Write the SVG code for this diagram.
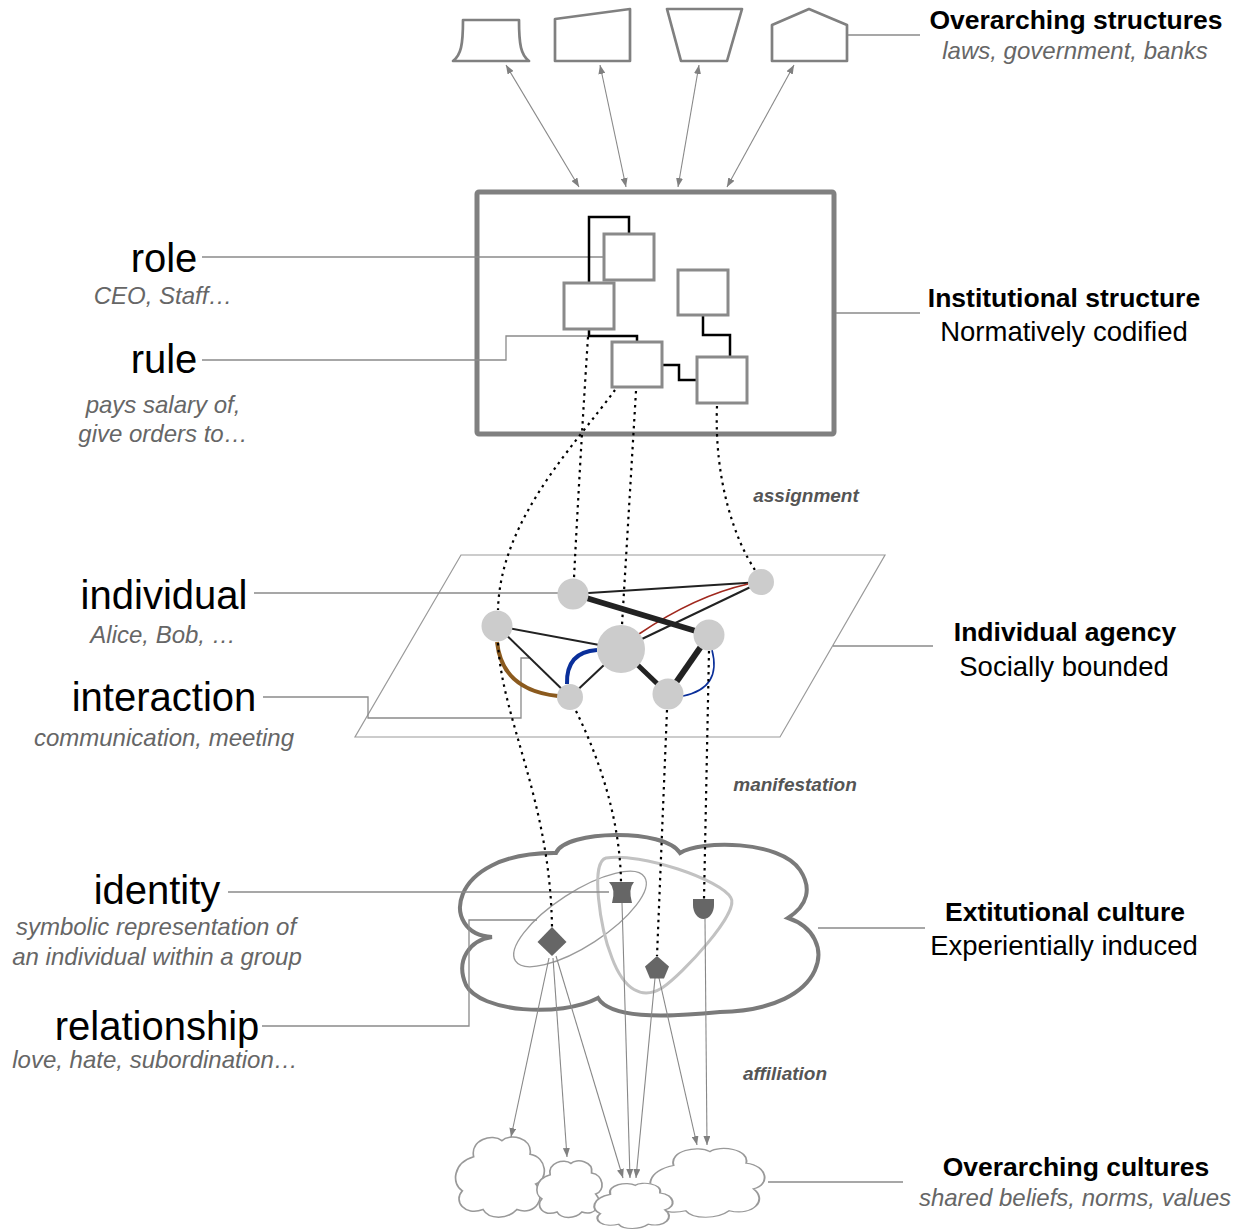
<svg xmlns="http://www.w3.org/2000/svg" width="1236" height="1230" viewBox="0 0 1236 1230">
<defs>
<marker id="ah" markerUnits="userSpaceOnUse" markerWidth="9" markerHeight="7" refX="9" refY="3.5" orient="auto-start-reverse"><path d="M0,0 L9,3.5 L0,7 Z" fill="#808080"/></marker>
<path id="cloudShape" d="M22,28 C18,8 42,0 52,9 C60,0 85,5 82,25 C100,28 102,55 88,60 C100,75 88,98 68,90 C58,102 38,102 32,90 C12,98 0,80 10,68 C-2,60 0,35 22,28 Z"/>
</defs>
<style>
text{font-family:"Liberation Sans",Arial,Helvetica,sans-serif}
.big{font-size:40px;fill:#000;text-anchor:middle}
.sub{font-size:24px;fill:#666;font-style:italic;text-anchor:middle}
.ttl{font-size:26.5px;font-weight:bold;fill:#000;text-anchor:middle}
.dsc{font-size:27.5px;fill:#000;text-anchor:middle}
.mid{font-size:19px;font-weight:bold;font-style:italic;fill:#555;text-anchor:middle}
.lab{fill:none;stroke:#8a8a8a;stroke-width:1.3}
.top{fill:#fff;stroke:#808080;stroke-width:2.7;stroke-linejoin:round}
.box{fill:#fff;stroke:#8a8a8a;stroke-width:3}
.org{fill:none;stroke:#000;stroke-width:2.5}
.dot{fill:none;stroke:#000;stroke-width:2.2;stroke-dasharray:2.5 4.5}
.arr{fill:none;stroke:#888;stroke-width:1.1}
.ind{fill:#cccccc}
.thin{stroke:#222;stroke-width:2;fill:none}
.thick{stroke:#222;fill:none}
.cult{fill:#666}
.sc{fill:#fff;stroke:#999}
</style>
<rect width="1236" height="1230" fill="#fff"/>

<!-- containers -->
<g id="institution-frame"><rect x="477" y="192" width="357" height="242" rx="2" fill="#fff" stroke="#808080" stroke-width="5"/></g>
<g id="agency-plane"><path d="M461,555 L885,555 L780,737 L355,737 Z" fill="#fff" stroke="#9a9a9a" stroke-width="1.2"/></g>
<g id="culture-cloud">
<path d="M492,937 C440,935 445,852 556,853 C565,830 665,828 680,853 C700,840 780,840 800,870 C812,888 808,905 788,918 C840,935 830,1010 720,1012 C660,1018 610,1018 598,998 C560,1018 480,1012 466,985 C455,960 470,940 492,937 Z" fill="#fff" stroke="#7a7a7a" stroke-width="4"/>
<ellipse cx="580" cy="919" rx="77" ry="27" transform="rotate(-33 580 919)" fill="none" stroke="#9a9a9a" stroke-width="1.3"/>
<path d="M606,858 C640,852 722,880 731,898 C740,912 682,975 662,988 C642,1000 624,990 612,958 C600,928 590,862 606,858 Z" fill="none" stroke="#c2c2c2" stroke-width="3"/>
</g>
<g id="overarching-cultures">
<use href="#cloudShape" class="sc" transform="translate(453,1133) scale(0.94,0.85)" style="stroke-width:1.8"/>
<use href="#cloudShape" class="sc" transform="translate(535,1158) scale(0.69,0.60)" style="stroke-width:2.5"/>
<use href="#cloudShape" class="sc" transform="translate(647,1145) scale(1.21,0.73)" style="stroke-width:1.6"/>
<use href="#cloudShape" class="sc" transform="translate(592,1181) scale(0.83,0.48)" style="stroke-width:2.5"/>
</g>
<g id="overarching-structures">
<path class="top" d="M463,20 H519 C519,45 521,55 529,61 H453 C461,55 463,45 463,20 Z"/>
<path class="top" d="M555,19 L630,9 V61 H555 Z"/>
<path class="top" d="M667,9 H742 L727,61 H681 Z"/>
<path class="top" d="M772,25 L809,9 L847,25 V61 H772 Z"/>
</g>

<!-- connectors -->
<g id="connectors">
<path class="lab" d="M848,35 H920"/>
<path class="lab" d="M836,313 H920"/>
<path class="lab" d="M833,646 H933"/>
<path class="lab" d="M818,928 H925"/>
<path class="lab" d="M768,1182 H903"/>
<path class="lab" d="M202,257 H604"/>
<path class="lab" d="M202,360 H506 V336 H589"/>
<path class="lab" d="M254,593 H558"/>
<path class="lab" d="M263,697 H368 V718 H521 V658 H529"/>
<path class="lab" d="M228,892 H609"/>
<path class="lab" d="M262,1026 H469 V920 H537"/>

<path class="arr" marker-start="url(#ah)" marker-end="url(#ah)" d="M506,65 L579,187"/>
<path class="arr" marker-start="url(#ah)" marker-end="url(#ah)" d="M600,65 L626,187"/>
<path class="arr" marker-start="url(#ah)" marker-end="url(#ah)" d="M699,65 L678,187"/>
<path class="arr" marker-start="url(#ah)" marker-end="url(#ah)" d="M794,65 L727,187"/>

<path class="org" d="M589,283 V217 H629 V234"/>
<path class="org" d="M589,329 V336 H637 V342"/>
<path class="org" d="M703,315 V335 H730 V357"/>
<path class="org" stroke-width="3.5" d="M662,365 H679 V380 H697"/>

<path class="dot" d="M588,337 Q580,460 574,578"/>
<path class="dot" d="M615,390 C575,445 500,520 498,610"/>
<path class="dot" d="M636,391 L622,625"/>
<path class="dot" d="M717,406 C714,480 735,540 755,570"/>

<path class="thin" d="M573,594 L761,582"/>
<path class="thin" d="M761,582 L621,649"/>
<path d="M748,584 Q695,596 639,634" fill="none" stroke="#a0281e" stroke-width="1.6"/>
<path class="thin" d="M497,626 L621,649"/>
<path class="thin" d="M497,626 L570,697"/>
<path class="thin" d="M621,649 L570,697"/>
<path class="thick" stroke-width="5.5" d="M573,594 L709,635"/>
<path class="thick" stroke-width="5" d="M621,649 L668,694"/>
<path class="thick" stroke-width="6" d="M709,635 L668,694"/>
<path d="M497,642 Q502,690 558,696" fill="none" stroke="#8b5a1e" stroke-width="4"/>
<path d="M597,650 Q566,652 567,684" fill="none" stroke="#0a2f9a" stroke-width="4"/>
<path d="M712,650 Q722,688 683,696" fill="none" stroke="#0a2f9a" stroke-width="1.6"/>

<path class="dot" d="M498,643 C502,720 550,800 552,927"/>
<path class="dot" d="M576,711 C600,760 620,820 621,882"/>
<path class="dot" d="M667,710 L657,956"/>
<path class="dot" d="M709,651 L704,899"/>

<path class="arr" marker-end="url(#ah)" d="M549,958 L511,1137"/>
<path class="arr" marker-end="url(#ah)" d="M553,958 L567,1157"/>
<path class="arr" marker-end="url(#ah)" d="M556,956 L623,1178"/>
<path class="arr" marker-end="url(#ah)" d="M622,903 L630,1178"/>
<path class="arr" marker-end="url(#ah)" d="M655,978 L636,1178"/>
<path class="arr" marker-end="url(#ah)" d="M659,978 L697,1145"/>
<path class="arr" marker-end="url(#ah)" d="M705,919 L707,1145"/>
</g>

<!-- institutional roles -->
<g id="role-a"><rect class="box" x="604" y="234" width="50" height="46"/></g>
<g id="role-b"><rect class="box" x="564" y="283" width="50" height="46"/></g>
<g id="role-c"><rect class="box" x="612" y="342" width="50" height="45"/></g>
<g id="role-d"><rect class="box" x="678" y="270" width="50" height="45"/></g>
<g id="role-e"><rect class="box" x="697" y="357" width="50" height="46"/></g>

<!-- individuals -->
<g id="ind-1"><circle class="ind" cx="573" cy="594" r="15.5"/></g>
<g id="ind-2"><circle class="ind" cx="761" cy="582" r="13"/></g>
<g id="ind-3"><circle class="ind" cx="497" cy="626" r="15.5"/></g>
<g id="ind-4"><circle class="ind" cx="621" cy="649" r="24"/></g>
<g id="ind-5"><circle class="ind" cx="709" cy="635" r="15.5"/></g>
<g id="ind-6"><circle class="ind" cx="570" cy="697" r="13"/></g>
<g id="ind-7"><circle class="ind" cx="668" cy="694" r="15.5"/></g>

<!-- culture symbols -->
<g id="sym-diamond"><path class="cult" d="M552,927 L566.5,942 L552,956 L537.5,942 Z"/></g>
<g id="sym-trapezoid"><path class="cult" d="M609,882 L634,882 Q628,889 632,903 L612,903 Q616,889 609,882 Z"/></g>
<g id="sym-shield"><path class="cult" d="M693,899 H714 V905 C714,913 709,919 703.5,919 C698,919 693,913 693,905 Z"/></g>
<g id="sym-pentagon"><path class="cult" d="M657,956 L669,966.5 L664,978.5 L650,978.5 L645,966.5 Z"/></g>

<!-- labels -->
<g id="label-overarching-structures"><text class="ttl" x="1076" y="29">Overarching structures</text><text class="sub" x="1075" y="59">laws, government, banks</text></g>
<g id="label-institutional"><text class="ttl" x="1064" y="307">Institutional structure</text><text class="dsc" x="1064" y="341">Normatively codified</text></g>
<g id="label-agency"><text class="ttl" x="1065" y="641">Individual agency</text><text class="dsc" x="1064" y="676">Socially bounded</text></g>
<g id="label-extitutional"><text class="ttl" x="1065" y="921">Extitutional culture</text><text class="dsc" x="1064" y="955">Experientially induced</text></g>
<g id="label-overarching-cultures"><text class="ttl" x="1076" y="1176">Overarching cultures</text><text class="sub" x="1075" y="1206">shared beliefs, norms, values</text></g>

<g id="label-role"><text class="big" x="164" y="272">role</text><text class="sub" x="163" y="304">CEO, Staff…</text></g>
<g id="label-rule"><text class="big" x="164" y="373">rule</text><text class="sub" x="163" y="413">pays salary of,</text><text class="sub" x="163" y="442">give orders to…</text></g>
<g id="label-individual"><text class="big" x="164" y="609">individual</text><text class="sub" x="163" y="643">Alice, Bob, …</text></g>
<g id="label-interaction"><text class="big" x="164" y="711">interaction</text><text class="sub" x="164" y="746">communication, meeting</text></g>
<g id="label-identity"><text class="big" x="157" y="904">identity</text><text class="sub" x="156" y="935">symbolic representation of</text><text class="sub" x="157" y="965">an individual within a group</text></g>
<g id="label-relationship"><text class="big" x="157" y="1040">relationship</text><text class="sub" x="155" y="1068">love, hate, subordination…</text></g>

<g id="label-phases">
<text class="mid" x="806" y="502">assignment</text>
<text class="mid" x="795" y="791">manifestation</text>
<text class="mid" x="785" y="1080">affiliation</text>
</g>
</svg>
